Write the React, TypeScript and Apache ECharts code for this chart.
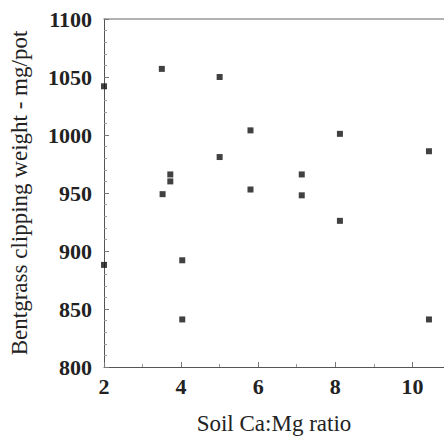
import React, { useEffect, useRef } from "react";
import * as echarts from "echarts";

const ratioX: number[] = [2, 3.5, 5, 5.8, 8.12, 10.43, 5, 3.72, 3.72, 3.52, 5.8, 7.13, 7.13, 8.12, 2, 4.03, 4.03, 10.43];
const weightY: number[] = [1042, 1057, 1050, 1004, 1001, 986, 981, 966, 960, 949, 953, 966, 948, 926, 888, 892, 841, 841];
const xTicks: number[] = [2, 4, 6, 8, 10];
const yTicks: number[] = [800, 850, 900, 950, 1000, 1050, 1100];

export default function App() {
  const ref = useRef<HTMLDivElement>(null);
  useEffect(() => {
    if (!ref.current) return;
    const chart = echarts.init(ref.current, undefined, { renderer: "svg" });
    const serif = "Liberation Serif";
    const data = ratioX.map((x, i) => [x, weightY[i]]);
    chart.setOption({
      animation: false,
      backgroundColor: "#ffffff",
      grid: { left: 99, top: 19, right: 0, bottom: 73 },
      xAxis: [
        {
          type: "value",
          min: 2,
          max: 10.82,
          interval: 2,
          name: "Soil Ca:Mg ratio",
          nameLocation: "middle",
          nameGap: 45,
          nameTextStyle: { fontFamily: serif, fontSize: 23, color: "#222" },
          axisLine: { show: true, onZero: false, lineStyle: { color: "#555", width: 1 } },
          axisTick: { show: true, inside: true, length: 5, lineStyle: { color: "#777" } },
          minorTick: { show: true, splitNumber: 2, length: 3, lineStyle: { color: "#999" } },
          splitLine: { show: false },
          axisLabel: {
            showMaxLabel: false,
            margin: 8,
            fontFamily: serif,
            fontWeight: "bold",
            fontSize: 22,
            color: "#222",
            formatter: (v: number) => (xTicks.includes(v) ? String(v) : ""),
          },
        },
        {
          type: "value",
          position: "top",
          min: 2,
          max: 10.82,
          interval: 2,
          axisLine: { show: true, lineStyle: { color: "#999", width: 1.5 } },
          axisTick: { show: false },
          axisLabel: { show: false },
          splitLine: { show: false },
        },
      ],
      yAxis: {
        type: "value",
        min: 800,
        max: 1100,
        interval: 50,
        name: "Bentgrass clipping weight - mg/pot",
        nameLocation: "middle",
        nameGap: 73,
        nameTextStyle: { fontFamily: serif, fontSize: 23, color: "#222" },
        axisLine: { show: true, lineStyle: { color: "#555", width: 1 } },
        axisTick: { show: true, inside: true, length: 5, lineStyle: { color: "#777" } },
        minorTick: { show: true, splitNumber: 5, length: 3, lineStyle: { color: "#999" } },
        splitLine: { show: false },
        axisLabel: {
          margin: 12,
          fontFamily: serif,
          fontWeight: "bold",
          fontSize: 22,
          color: "#222",
          formatter: (v: number) => (yTicks.includes(v) ? String(v) : ""),
        },
      },
      series: [
        {
          type: "scatter",
          data,
          symbol: "rect",
          symbolSize: 6,
          itemStyle: { color: "#111" },
          clip: false,
        },
      ],
    });
    return () => chart.dispose();
  }, []);
  return (
    <div
      ref={ref}
      style={{ position: "fixed", left: 0, top: 0, width: 444, height: 440 }}
    />
  );
}
